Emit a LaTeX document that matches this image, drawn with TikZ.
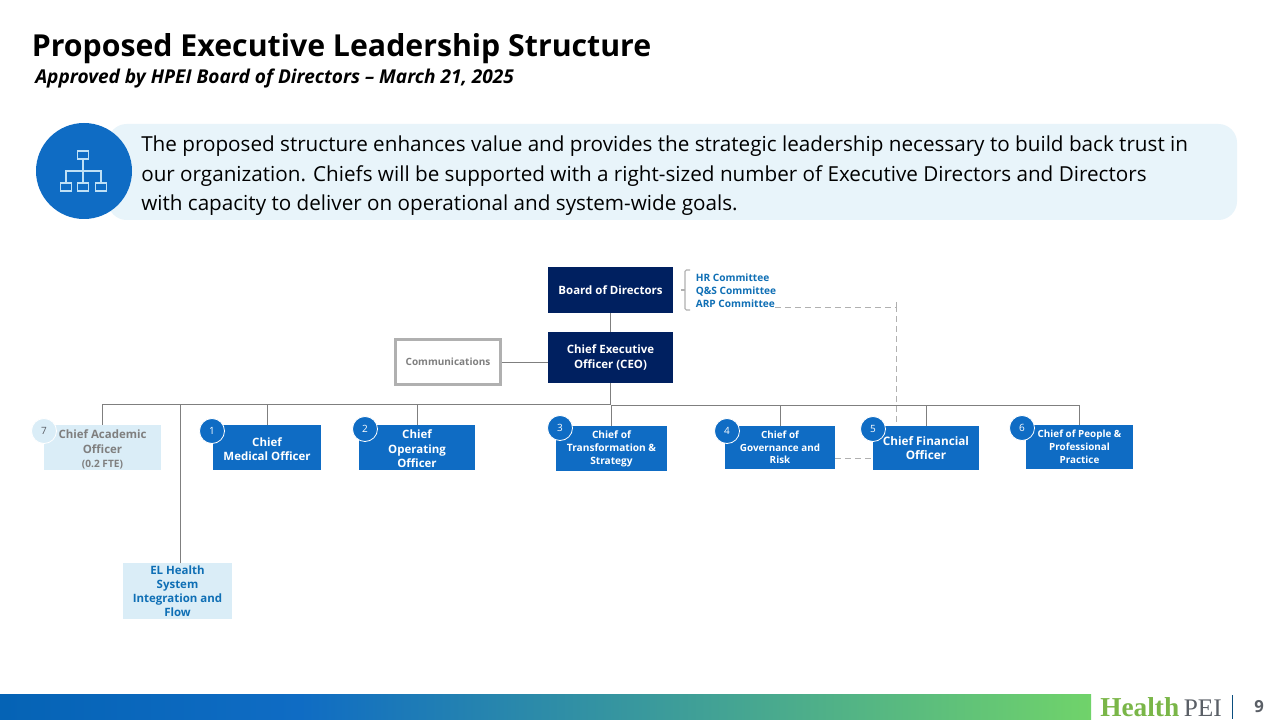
\documentclass[tikz,border=0pt]{standalone}
\usepackage{fontspec}
\setmainfont{Open Sans}
\newfontfamily\logofont{Liberation Serif}
\usetikzlibrary{positioning}
\definecolor{navyfill}{HTML}{002060}
\definecolor{bluefill}{HTML}{0F6CC4}
\definecolor{palefill}{HTML}{DAEDF7}
\definecolor{pillfill}{HTML}{E8F4FA}
\definecolor{linegray}{HTML}{7F7F7F}
\definecolor{dashgray}{HTML}{B0B0B0}
\definecolor{textblue}{HTML}{0F6FB5}
\definecolor{iconline}{HTML}{BFE0F5}
\definecolor{barstart}{HTML}{0563B5}
\definecolor{barend}{HTML}{70D36A}
\definecolor{logogreen}{HTML}{7AB648}
\definecolor{logogray}{HTML}{5A5F66}
\def\px{0.75pt}
\tikzset{
  orgbox/.style={inner sep=0pt, align=center, font=\bfseries\fontsize{8.6}{10.6}\selectfont},
  navybox/.style={orgbox, fill=navyfill, text=white},
  bluebox/.style={orgbox, fill=bluefill, text=white},
  palebox/.style={orgbox, fill=palefill},
  numdot/.style={circle, minimum size=25*\px, inner sep=0pt, fill=bluefill, draw=white, line width=0.6pt, text=white, font=\fontsize{7.5}{9}\selectfont},
  orgline/.style={draw=linegray, line width=0.65pt},
  dashline/.style={draw=dashgray, line width=0.7pt, dash pattern=on 4.5pt off 3pt},
  iconbox/.style={draw=iconline, line width=0.8pt, minimum width=11.5*\px, minimum height=8*\px, inner sep=0pt},
}
\begin{document}
\begin{tikzpicture}[x=0.75pt, y=-0.75pt]
  \useasboundingbox (0,0) rectangle (1280,720);
  \fill[white] (0,0) rectangle (1280,720);

  % heading
  \node (title) [anchor=base west, inner sep=0pt, font=\bfseries\fontsize{22.7}{26}\selectfont] at (31.5,57){Proposed Executive Leadership Structure};
  \node (subtitle) [anchor=base west, inner sep=0pt, font=\bfseries\itshape\fontsize{14.3}{17}\selectfont] at (35,84){Approved by HPEI Board of Directors -- March 21, 2025};

  % banner
  \fill[pillfill, rounded corners=14pt] (108,124) rectangle (1237,220);
  \node (badge) [circle, fill=bluefill, minimum size=96*\px, inner sep=0pt] at (84,171){};
  \node (iconTop) [iconbox] at (83,155){};
  \node (iconA) [iconbox] at (66,187){};
  \node (iconB) [iconbox] at (83,187){};
  \node (iconC) [iconbox] at (101,187){};
  \coordinate (iconHub) at (83,171);
  \draw[iconbox] (iconTop) -- (iconB);
  \draw[iconbox] (iconA) |- (iconHub) -| (iconC);
  \node (banner) [anchor=north west, inner sep=0pt, align=left, font=\fontsize{15.5}{22.2}\selectfont] at (141,135.5){The proposed structure enhances value and provides the strategic leadership necessary to build back trust in\\our organization. Chiefs will be supported with a right-sized number of Executive Directors and Directors\\with capacity to deliver on operational and system-wide goals.};

  % top of chart
  \node (board) [navybox, minimum width=125*\px, minimum height=46*\px] at (610.5,290){Board of Directors};
  \node (ceo) [navybox, minimum width=125*\px, minimum height=51*\px] at (610.5,357.5){Chief Executive\\Officer (CEO)};
  \node (comms) [orgbox, draw=dashgray, line width=2.2pt, text=linegray, minimum width=105*\px, minimum height=45*\px, font=\bfseries\fontsize{7.5}{9}\selectfont] at (448,362){Communications};
  \node (cmte) [anchor=west, inner sep=0pt, align=left, text=textblue, font=\bfseries\fontsize{7.6}{9.7}\selectfont] at (695.5,291){HR Committee\\Q\&S Committee\\ARP Committee};
  \coordinate (arpEnd) at (775,307);
  \coordinate (brTop) at (690,270);
  \coordinate (brBot) at (690,310);
  \coordinate (brTick) at (681,290);

  \draw[orgline] (board) -- (ceo);
  \draw[orgline] (comms) -- (comms -| ceo.west);
  \draw[draw=dashgray, line width=0.8pt, rounded corners=1pt] (brTop) -- (685,270) -- (685,310) -- (brBot);
  \draw[draw=dashgray, line width=0.8pt] (brTick) -- (685,290);

  % chiefs
  \node (acad) [palebox, text=linegray, minimum width=117*\px, minimum height=45*\px] at (102.5,447.5){\rule{0pt}{9.5pt}Chief Academic\\Officer\\{\fontsize{7.6}{9}\selectfont (0.2 FTE)}};
  \node (med) [bluebox, minimum width=108*\px, minimum height=45*\px] at (267,447.5){\rule{0pt}{8.5pt}Chief\\Medical Officer};
  \node (coo) [bluebox, minimum width=116*\px, minimum height=45*\px] at (417,447.5){\rule{0pt}{8.5pt}Chief\\Operating\\Officer};
  \node (trans) [bluebox, minimum width=111*\px, minimum height=45*\px, font=\bfseries\fontsize{7.6}{9.8}\selectfont] at (611.5,448.5){Chief of\\Transformation \&\\Strategy};
  \node (gov) [bluebox, minimum width=110*\px, minimum height=43*\px, font=\bfseries\fontsize{7.4}{9.5}\selectfont] at (780,447.5){Chief of\\Governance and\\Risk};
  \node (cfo) [bluebox, minimum width=106*\px, minimum height=44*\px, font=\bfseries\fontsize{8.8}{10.6}\selectfont] at (926,448){Chief Financial\\Officer};
  \node (people) [bluebox, minimum width=107*\px, minimum height=44*\px, font=\bfseries\fontsize{7.4}{9.6}\selectfont] at (1079.5,447){Chief of People \&\\Professional\\Practice};
  \node (el) [palebox, text=textblue, minimum width=109*\px, minimum height=56*\px] at (177.5,591){EL Health\\System\\Integration and\\Flow};

  % reporting lines
  \coordinate (hubLeft) at (610.5,404);
  \coordinate (hubRight) at (610.5,405);
  \coordinate (elTop) at (180,563);
  \draw[orgline, line width=1.2pt] (ceo.south) -- (hubRight);
  \foreach \n in {acad, med, coo}
    \draw[orgline] (\n.north) |- (hubLeft);
  \draw[orgline] (elTop) |- (hubLeft);
  \foreach \n in {trans, gov, cfo, people}
    \draw[orgline] (\n.north) |- (hubRight);

  % dashed links
  \coordinate (cfoTop) at (896,426);
  \coordinate (dashTurn) at (896,307);
  \coordinate (dashStub) at (896,302);
  \draw[dashline] (arpEnd) -- (dashTurn) -- (cfoTop);
  \draw[dashline] (dashStub) -- (dashTurn);
  \draw[dashline] (gov.east |- 0,458) -- (cfo.west |- 0,458);

  % number badges
  \node (dot7) [numdot, fill=palefill, text=logogray] at (44,431){7};
  \node (dot1) [numdot] at (212,431){1};
  \node (dot2) [numdot] at (365,429){2};
  \node (dot3) [numdot] at (560,428){3};
  \node (dot4) [numdot] at (727,431){4};
  \node (dot5) [numdot] at (873,429){5};
  \node (dot6) [numdot] at (1022,428){6};

  % footer
  \fill[left color=barstart, right color=bluefill] (0,694) rectangle (300,720);
  \fill[left color=bluefill, right color=barend] (299.5,694) rectangle (1091,720);
  \node (logo) [anchor=base west, inner sep=0pt, font=\logofont\bfseries\fontsize{20.5}{22}\selectfont, text=logogreen] at (1100,716){Health};
  \node (logoPei) [right=3pt of logo.base east, anchor=base west, inner sep=0pt, font=\logofont\fontsize{19}{22}\selectfont, text=logogray] {PEI};
  \coordinate (sepTop) at (1232,695);
  \coordinate (sepBot) at (1232,719);
  \draw[draw=textblue!70!black, line width=0.7pt] (sepTop) -- (sepBot);
  \node (pagenum) [text=logogray, inner sep=0pt, font=\bfseries\fontsize{12.5}{14}\selectfont] at (1259,707){9};
\end{tikzpicture}
\end{document}
